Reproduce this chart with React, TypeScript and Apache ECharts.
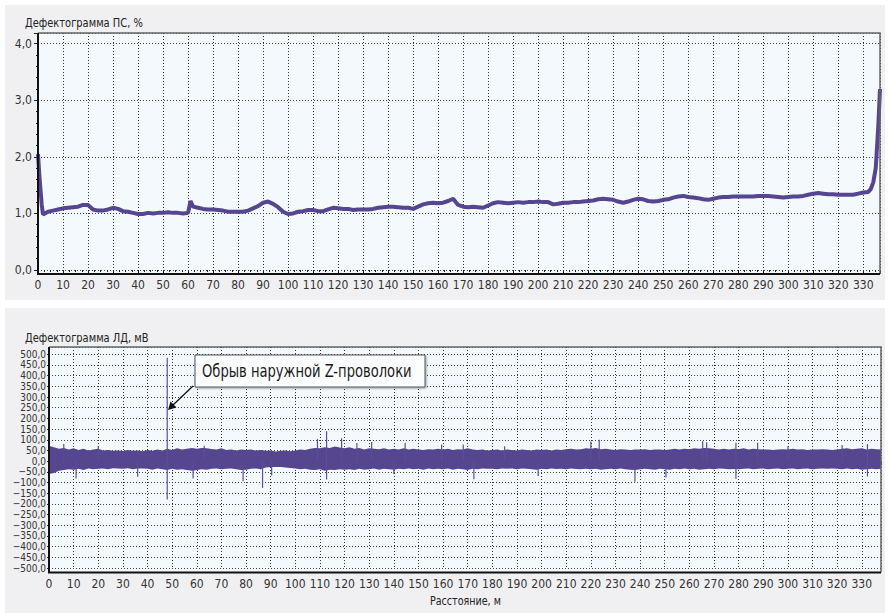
import React, { useEffect, useRef } from 'react';
import * as echarts from 'echarts';

// ---- Дефектограмма ПС, % (distance in m, value in %) ----
const psDist = [
  0, 0.5, 1, 1.5, 2, 4, 6, 8, 10, 12, 14, 16, 18, 20, 22, 24, 26, 28, 30, 32, 34, 36, 38, 40, 42, 44, 46, 48, 50,
  52, 54, 56, 58, 60, 61, 62, 64, 66, 68, 70, 72, 74, 76, 78, 80, 82, 84, 86, 88, 90, 92, 94, 96, 98, 100,
  102, 104, 106, 108, 110, 112, 114, 116, 118, 120, 122, 124, 126, 128, 130, 132, 134, 136, 138, 140, 142, 144,
  146, 148, 150, 152, 154, 156, 158, 160, 162, 164, 166, 168, 170, 172, 174, 176, 178, 180, 182, 184, 186, 188,
  190, 192, 194, 196, 198, 200, 202, 204, 206, 208, 210, 212, 214, 216, 218, 220, 222, 224, 226, 228, 230, 232,
  234, 236, 238, 240, 242, 244, 246, 248, 250, 252, 254, 256, 258, 260, 262, 264, 266, 268, 270, 272, 274, 276,
  278, 280, 282, 284, 286, 288, 290, 292, 294, 296, 298, 300, 302, 304, 306, 308, 310, 312, 314, 316, 318, 320,
  322, 324, 326, 328, 330, 332, 333, 334, 335, 336, 336.7,
];
const psValue = [
  2.05, 1.7, 1.42, 1.15, 0.98, 1.03, 1.05, 1.07, 1.09, 1.1, 1.11, 1.12, 1.15, 1.15, 1.07, 1.05, 1.05, 1.07, 1.1, 1.08,
  1.04, 1.03, 1.01, 0.99, 0.99, 1.01, 1.0, 1.01, 1.01,
  1.02, 1.01, 1.01, 1.0, 1.01, 1.22, 1.12, 1.1, 1.08, 1.07, 1.07, 1.06, 1.05, 1.03, 1.03, 1.03, 1.03, 1.05, 1.09, 1.13,
  1.19, 1.21, 1.17, 1.11, 1.03, 0.99,
  1.0, 1.03, 1.04, 1.06, 1.06, 1.04, 1.04, 1.07, 1.1, 1.09, 1.08, 1.08, 1.06, 1.07, 1.07, 1.07, 1.08, 1.1, 1.11, 1.12,
  1.12, 1.11,
  1.1, 1.1, 1.08, 1.12, 1.16, 1.18, 1.19, 1.18, 1.19, 1.22, 1.26, 1.15, 1.12, 1.11, 1.12, 1.11, 1.1, 1.14, 1.18, 1.2,
  1.19, 1.18,
  1.19, 1.2, 1.19, 1.2, 1.2, 1.21, 1.2, 1.2, 1.16, 1.17, 1.19, 1.19, 1.2, 1.2, 1.21, 1.22, 1.23, 1.25, 1.26, 1.25, 1.24,
  1.21,
  1.19, 1.21, 1.24, 1.26, 1.25, 1.22, 1.21, 1.22, 1.24, 1.25, 1.28, 1.3, 1.31, 1.29, 1.28, 1.27, 1.25, 1.24, 1.26, 1.28,
  1.29, 1.29,
  1.3, 1.3, 1.3, 1.3, 1.3, 1.31, 1.31, 1.31, 1.3, 1.29, 1.28, 1.29, 1.3, 1.3, 1.31, 1.33, 1.35, 1.36, 1.35, 1.34, 1.34,
  1.33,
  1.33, 1.33, 1.33, 1.35, 1.37, 1.38, 1.43, 1.55, 1.8, 2.53, 3.2,
];

// ---- Дефектограмма ЛД, мВ: upper / lower envelope of the noise band, every 2 m from 0 ----
const ldStep = 2;
const ldUpper = [
  72, 65, 58, 62, 55, 60, 52, 58, 50, 55,
  58, 50, 52, 48, 50, 47, 52, 48, 50, 46,
  52, 48, 55, 50, 58, 52, 60, 55, 58, 62,
  58, 62, 60, 57, 55, 60, 52, 55, 50, 55,
  52, 55, 50, 52, 48, 50, 45, 48, 50, 46,
  50, 55, 52, 58, 62, 60, 65, 62, 68, 64,
  60, 65, 58, 62, 55, 60, 58, 56, 60, 55,
  58, 55, 60, 54, 58, 55, 52, 56, 54, 58,
  55, 58, 52, 56, 55, 60, 54, 52, 55, 50,
  52, 55, 50, 54, 52, 50, 55, 52, 50, 54,
  52, 55, 50, 54, 52, 56, 58, 54, 56, 60,
  58, 62, 56, 58, 55, 52, 56, 54, 52, 55,
  54, 56, 52, 55, 54, 52, 55, 58, 55, 58,
  56, 60, 58, 62, 60, 58, 55, 58, 55, 58,
  56, 60, 55, 58, 56, 54, 55, 52, 54, 56,
  55, 58, 54, 56, 52, 55, 54, 56, 55, 52,
  55, 58, 60, 56, 58, 60, 55, 58, 56, 54,
];
const ldLower = [
  -60, -55, -45, -42, -38, -40, -36, -42, -35, -38,
  -36, -34, -38, -33, -35, -36, -33, -38, -35, -34,
  -36, -40, -35, -38, -42, -36, -40, -38, -42, -45,
  -42, -38, -40, -36, -35, -38, -36, -34, -38, -42,
  -40, -36, -35, -38, -30, -28, -27, -28, -30, -32,
  -35, -38, -36, -40, -42, -38, -45, -40, -42, -38,
  -40, -38, -42, -36, -40, -38, -35, -40, -36, -38,
  -40, -36, -38, -35, -38, -36, -40, -35, -38, -36,
  -38, -35, -40, -36, -38, -42, -36, -38, -35, -36,
  -36, -38, -35, -36, -34, -38, -35, -36, -38, -40,
  -36, -38, -35, -37, -36, -38, -35, -37, -38, -36,
  -38, -36, -40, -38, -36, -38, -35, -38, -40, -42,
  -38, -36, -38, -40, -36, -38, -40, -36, -38, -35,
  -38, -36, -40, -38, -36, -38, -35, -36, -38, -37,
  -38, -36, -35, -38, -36, -34, -38, -36, -35, -38,
  -36, -35, -38, -36, -35, -38, -36, -35, -36, -35,
  -36, -38, -35, -38, -36, -40, -38, -36, -38, -36,
];
// isolated spikes sticking out of the band (m, mV)
const ldSpikeDist = [
  0, 0, 6, 11, 20, 36, 48, 48, 58.5, 63, 78.8, 86.7, 90.4, 109, 112.7, 112.7, 118.8, 125, 131, 140, 144.6,
  159.4, 168.2, 172.5, 185, 198.6, 220, 223.4, 237.9, 250.5, 265.4, 267, 278.9, 278.9, 287.7, 300, 322, 332.3, 332.3,
];
const ldSpikeValue = [
  207, -103, 80, -81, 70, -73, 484, -180, -81, 72, -94, -125, -67, 103, 140, -86, 107, 85, 90, -60, 85,
  78, 78, -85, 70, -70, 92, 100, -97, -76, 93, 88, 86, -83, 86, 70, 75, 80, -72,
];

const psTitle = 'Дефектограмма ПС, %';
const ldTitle = 'Дефектограмма ЛД, мВ';
const xName = 'Расстояние, м';
const noteText = 'Обрыв наружной Z-проволоки';

const FONT = "'DejaVu Sans Condensed', 'Liberation Sans Narrow', sans-serif";
const LINE = '#55468f';
const TXT = '#333333';

const fmt1 = (v: number) => v.toFixed(1).replace('.', ',').replace('-', '\u2212');

export default function App() {
  const ref = useRef<HTMLDivElement>(null);
  useEffect(() => {
    if (!ref.current) return;
    const chart = echarts.init(ref.current, undefined, { renderer: 'svg' });
    const ldDist = ldUpper.map((_, i) => i * ldStep);

    const xAxisCommon = (gi: number, max: number, off: number) => ({
      type: 'value',
      gridIndex: gi,
      min: 0,
      max,
      interval: 10,
      offset: off,
      axisLine: { show: false },
      axisTick: { show: true, length: 4, lineStyle: { color: '#222', width: 1 } },
      minorTick: { show: true, splitNumber: 4, length: 2, lineStyle: { color: '#222', width: 1 } },
      axisLabel: { showMaxLabel: false, margin: 5, fontFamily: FONT, fontSize: 12, color: TXT },
      splitLine: { show: true, lineStyle: { color: '#333', width: 1, type: [1, 2] } },
    });

    const option: any = {
      animation: false,
      backgroundColor: '#ffffff',
      grid: [
        { left: 38, top: 33, width: 842, height: 237 },
        { left: 49, top: 347, width: 832, height: 221 },
      ],
      xAxis: [xAxisCommon(0, 336.7, 4), xAxisCommon(1, 337.8, 4.5)],
      yAxis: [
        {
          type: 'value', gridIndex: 0, min: 0, max: 4.19, interval: 1,
          axisLine: { show: false },
          axisTick: { show: true, length: 4, lineStyle: { color: '#222' } },
          minorTick: { show: true, splitNumber: 5, length: 2, lineStyle: { color: '#222' } },
          axisLabel: { showMaxLabel: false, showMinLabel: true, margin: 6, fontFamily: FONT, fontSize: 12, color: TXT, formatter: fmt1 },
          splitLine: { show: true, lineStyle: { color: '#444', width: 1, type: [1, 2] } },
        },
        {
          type: 'value', gridIndex: 1, min: -500, max: 534, interval: 50,
          axisLine: { show: false },
          axisTick: { show: true, length: 2, lineStyle: { color: '#222' } },
          axisLabel: { showMaxLabel: false, showMinLabel: true, hideOverlap: false, margin: 3, fontFamily: FONT, fontSize: 10, lineHeight: 10, color: TXT, formatter: fmt1 },
          splitLine: { show: true, lineStyle: { color: '#444', width: 1, type: [1, 2] } },
        },
      ],
      series: [
        {
          type: 'line', xAxisIndex: 0, yAxisIndex: 0, symbol: 'none', clip: true,
          data: psDist.map((d, i) => [d, psValue[i]]),
          lineStyle: { color: LINE, width: 4 },
          z: 3,
        },
        {
          type: 'custom', xAxisIndex: 1, yAxisIndex: 1, clip: true,
          data: [[0, 0]],
          encode: { x: 0, y: 1 },
          renderItem: (_p: any, api: any) => {
            const pts: number[][] = [];
            for (let i = 0; i < ldDist.length; i++) pts.push(api.coord([ldDist[i], ldUpper[i]]));
            for (let i = ldDist.length - 1; i >= 0; i--) pts.push(api.coord([ldDist[i], ldLower[i]]));
            return { type: 'polygon', shape: { points: pts }, style: { fill: LINE } };
          },
          z: 3,
        },
        {
          type: 'bar', xAxisIndex: 1, yAxisIndex: 1, barWidth: 1.2,
          data: ldSpikeDist.map((d, i) => [d, ldSpikeValue[i]]),
          itemStyle: { color: '#5d4d9a' },
          z: 3,
        },
      ],
      graphic: [
        // panels
        { type: 'rect', z: -20, shape: { x: 5, y: 5, width: 880, height: 295 }, style: { fill: '#f0f0f2' }, silent: true },
        { type: 'rect', z: -20, shape: { x: 5, y: 308, width: 880, height: 305 }, style: { fill: '#f0f0f2' }, silent: true },
        // plot backgrounds
        { type: 'rect', z: -10, shape: { x: 38, y: 33, width: 842, height: 241 }, style: { fill: '#f4f9fd' }, silent: true },
        { type: 'rect', z: -10, shape: { x: 49, y: 347, width: 832, height: 225.5 }, style: { fill: '#f4f9fd' }, silent: true },
        // frames
        { type: 'polyline', z: 10, shape: { points: [[38, 33], [880, 33], [880, 274]] }, style: { stroke: '#666', lineWidth: 1.5, fill: null } },
        { type: 'polyline', z: 10, shape: { points: [[38, 33], [38, 274], [880, 274]] }, style: { stroke: '#111', lineWidth: 2, fill: null } },
        { type: 'polyline', z: 10, shape: { points: [[49, 347], [881, 347], [881, 572.5]] }, style: { stroke: '#666', lineWidth: 1.5, fill: null } },
        { type: 'polyline', z: 10, shape: { points: [[49, 347], [49, 572.5], [881, 572.5]] }, style: { stroke: '#111', lineWidth: 2, fill: null } },
        // titles
        { type: 'text', z: 10, x: 25, y: 22.5, scaleX: 0.88, style: { text: psTitle, font: `12.5px ${FONT}`, fill: '#222', verticalAlign: 'middle' } },
        { type: 'text', z: 10, x: 25, y: 337.5, scaleX: 0.88, style: { text: ldTitle, font: `12.5px ${FONT}`, fill: '#222', verticalAlign: 'middle' } },
        { type: 'text', z: 10, x: 430, y: 601, scaleX: 0.85, style: { text: xName, font: `12.5px ${FONT}`, fill: '#222', verticalAlign: 'middle' } },
        // annotation
        {
          type: 'rect', z: 20, shape: { x: 195, y: 355, width: 230, height: 32 },
          style: { fill: '#fbfdfe', stroke: '#555', lineWidth: 1, shadowBlur: 2, shadowOffsetX: 1, shadowOffsetY: 1, shadowColor: 'rgba(0,0,0,0.35)' },
        },
        { type: 'text', z: 21, x: 202, y: 371, scaleX: 0.81, style: { text: noteText, font: `18px ${FONT}`, fill: '#1a1a1a', verticalAlign: 'middle' } },
        { type: 'line', z: 21, shape: { x1: 193, y1: 386, x2: 172, y2: 406 }, style: { stroke: '#111', lineWidth: 1.3 } },
        { type: 'polygon', z: 21, shape: { points: [[168, 410], [170.5, 401.5], [176.5, 407.5]] }, style: { fill: '#111' } },
      ],
    };
    chart.setOption(option);
    return () => chart.dispose();
  }, []);
  return <div ref={ref} style={{ position: 'fixed', left: 0, top: 0, width: 890, height: 613 }} />;
}
